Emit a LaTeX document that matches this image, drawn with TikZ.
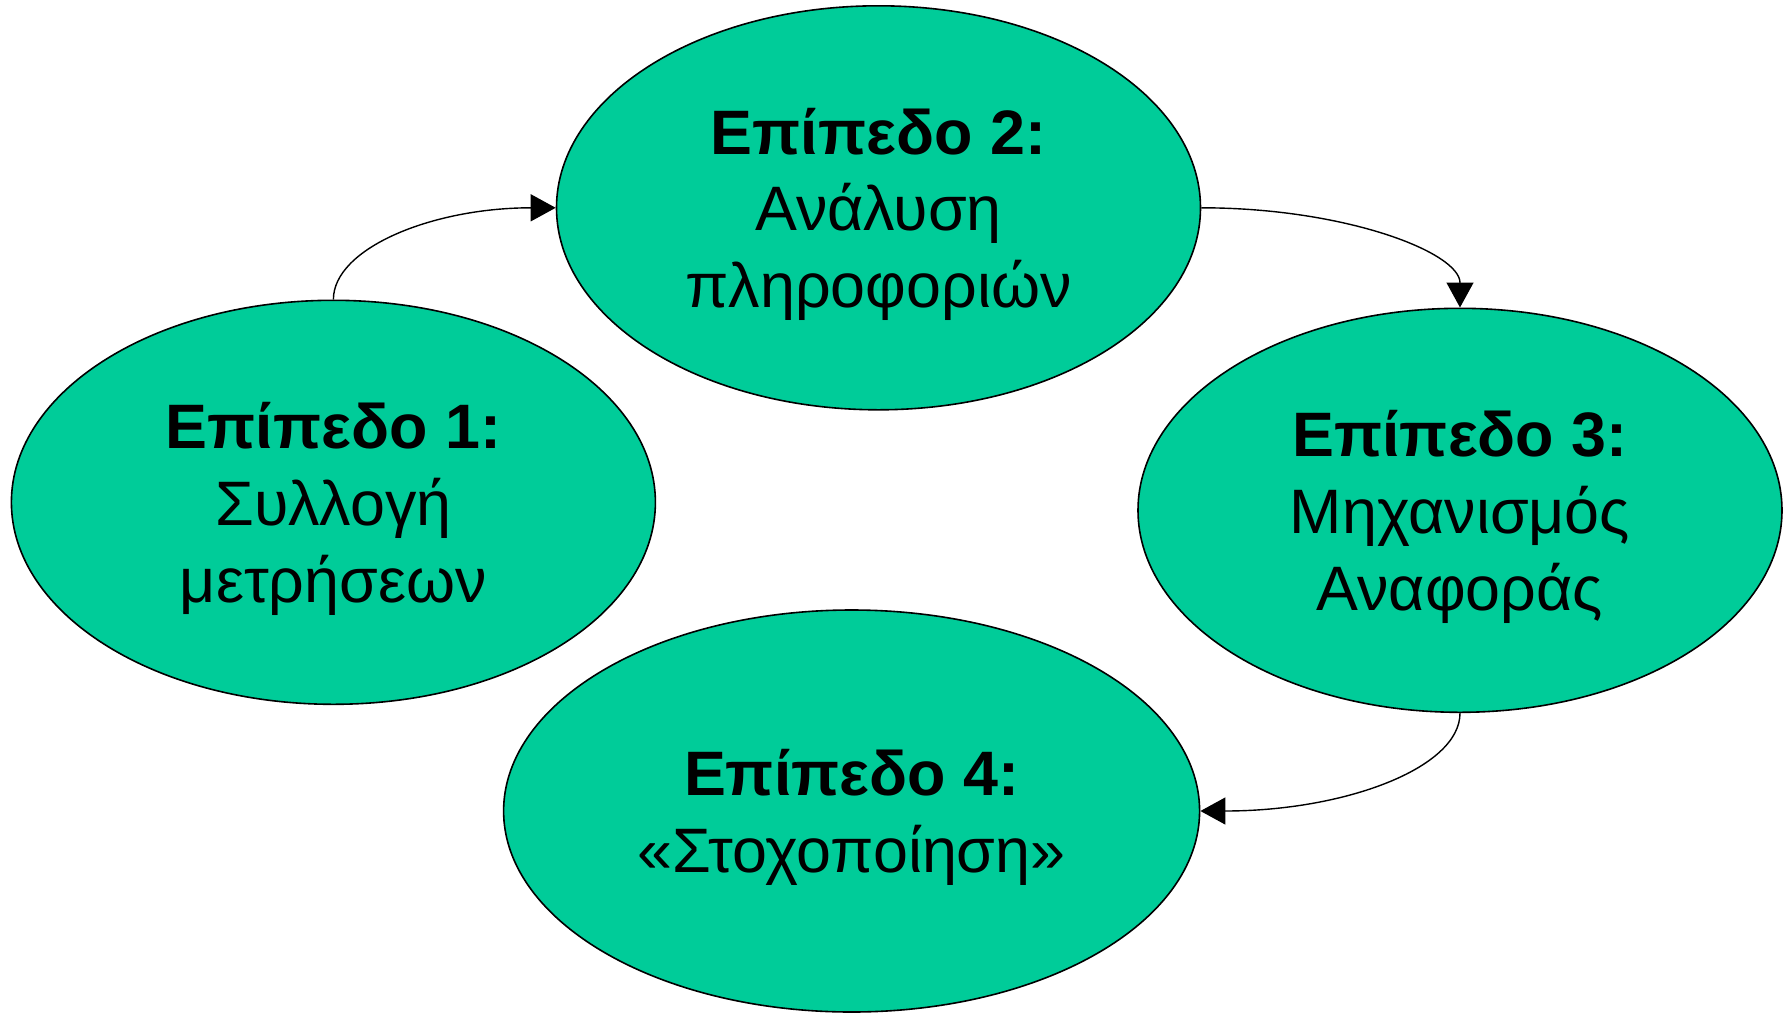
\documentclass[tikz,border=0pt]{standalone}
\usepackage{fontspec}
\setmainfont{Liberation Sans}
\usetikzlibrary{shapes.geometric,arrows.meta}
\definecolor{levelgreen}{RGB}{0,204,153}

\begin{document}
\begin{tikzpicture}[x=0.5pt,y=0.5pt,yscale=-1,xscale=1,
  level/.style={ellipse,draw=black,line width=0.8pt,fill=levelgreen,inner sep=0pt,
    minimum width=322pt,minimum height=202pt,align=center,text depth=0pt,
    font=\fontsize{31.4}{38.3}\selectfont},
  cycle/.style={draw=black,line width=0.7pt,-{Triangle[length=12.5pt,width=13.5pt]}}]
\useasboundingbox (0,0) rectangle (1790,1013);

% Ellipse Nodes
\node [level] (lvl1) at (333.4,502.3) {\textbf{Επίπεδο 1:}\\Συλλογή\\μετρήσεων};
\node [level] (lvl2) at (878.5,207.8) {\textbf{Επίπεδο 2:}\\Ανάλυση\\πληροφοριών};
\node [level] (lvl3) at (1460,510.3) {\textbf{Επίπεδο 3:}\\Μηχανισμός\\Αναφοράς};
\node [level,minimum width=348pt,minimum height=201pt] (lvl4) at (851.6,811) {\textbf{Επίπεδο 4:}\\«Στοχοποίηση»};

%Curve Lines (quarter ellipses, y axis flipped)
\draw [cycle] (lvl1.north) .. controls +(0,-51) and +(-124,0) .. (lvl2.west);
\draw [cycle] (lvl2.east) .. controls +(144,0) and +(0,-55) .. (lvl3.north);
\draw [cycle] (lvl3.south) .. controls +(0,55) and +(144,0) .. (lvl4.east);

\end{tikzpicture}
\end{document}
